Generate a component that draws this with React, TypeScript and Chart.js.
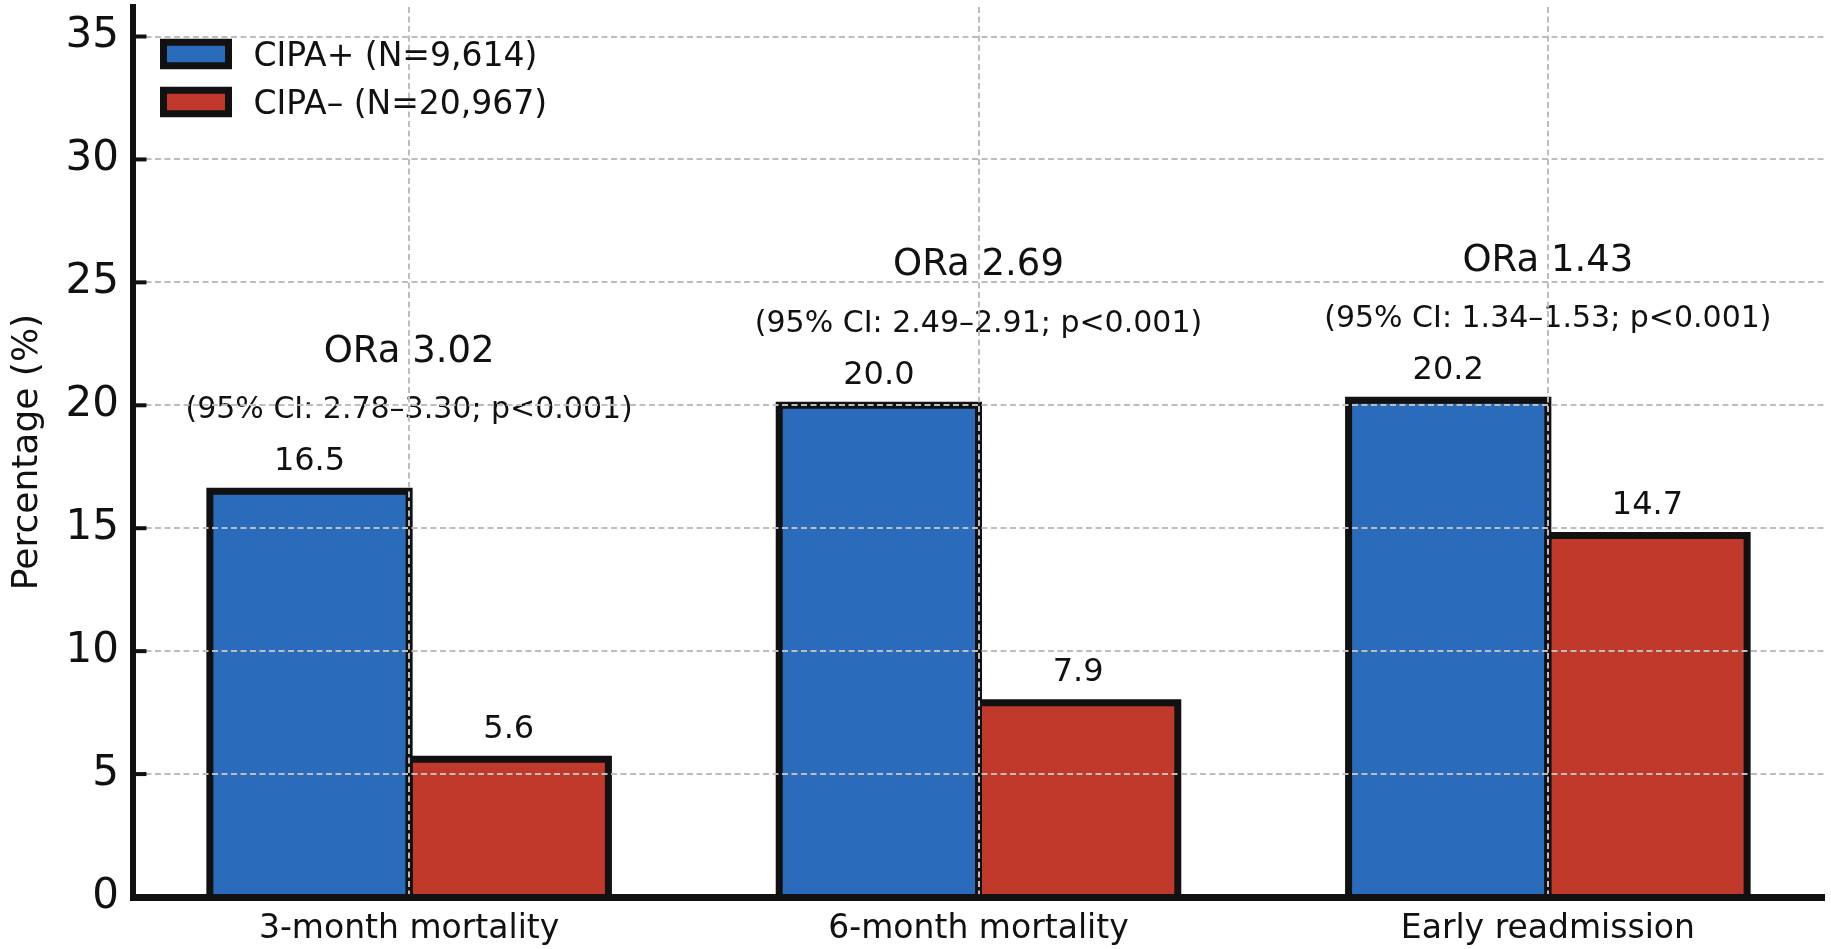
import { useEffect, useRef } from "react"
import { Chart, BarController, BarElement, LinearScale } from "chart.js"

Chart.register(BarController, BarElement, LinearScale)

const categories = ["3-month mortality", "6-month mortality", "Early readmission"]
const seriesLabels = ["CIPA+ (N=9,614)", "CIPA– (N=20,967)"]
const cipaPos = [16.5, 20.0, 20.2]
const cipaNeg = [5.6, 7.9, 14.7]
const oraLabels = ["ORa 3.02", "ORa 2.69", "ORa 1.43"]
const ciLabels = [
  "(95% CI: 2.78–3.30; p<0.001)",
  "(95% CI: 2.49–2.91; p<0.001)",
  "(95% CI: 1.34–1.53; p<0.001)",
]
const yTicks = [0, 5, 10, 15, 20, 25, 30, 35]
const yMax = 36.2

const FONT = "DejaVu Sans"
const COLORS = {
  pos: "#2a6bbb",
  neg: "#c0392b",
  edge: "#111111",
  grid: "#bdbdbd",
  text: "#111111",
}

// bar outlines, value labels, ORa / CI text, inward ticks and the legend
const overlayPlugin = {
  id: "overlay",
  afterDatasetsDraw(chart: any) {
    const { ctx } = chart
    const ys = chart.scales.y
    const xs = chart.scales.x
    ctx.save()

    ctx.lineWidth = 7
    ctx.strokeStyle = COLORS.edge
    ctx.lineJoin = "miter"
    chart.data.datasets.forEach((_: any, di: number) => {
      chart.getDatasetMeta(di).data.forEach((bar: any) => {
        const l = bar.x - bar.width / 2
        const r = bar.x + bar.width / 2
        ctx.beginPath()
        ctx.moveTo(l, bar.base)
        ctx.lineTo(l, bar.y)
        ctx.lineTo(r, bar.y)
        ctx.lineTo(r, bar.base)
        ctx.stroke()
      })
    })

    ctx.fillStyle = COLORS.text
    ctx.textAlign = "center"
    ctx.textBaseline = "alphabetic"
    ctx.font = `32px "${FONT}"`
    chart.data.datasets.forEach((ds: any, di: number) => {
      chart.getDatasetMeta(di).data.forEach((bar: any, i: number) => {
        const v = ds.data[i].y
        ctx.fillText(v.toFixed(1), bar.x, ys.getPixelForValue(v + 0.87))
      })
    })

    categories.forEach((_, i) => {
      const top = Math.max(cipaPos[i], cipaNeg[i])
      const cx = xs.getPixelForValue(i)
      ctx.font = `30px "${FONT}"`
      ctx.fillText(ciLabels[i], cx, ys.getPixelForValue(top + 2.97))
      ctx.font = `37px "${FONT}"`
      ctx.fillText(oraLabels[i], cx, ys.getPixelForValue(top + 5.28))
    })
    ctx.restore()
  },
  afterDraw(chart: any) {
    const { ctx, chartArea: ca } = chart
    const ys = chart.scales.y
    ctx.save()

    ctx.strokeStyle = COLORS.edge
    ctx.lineWidth = 4
    ys.ticks.forEach((t: any) => {
      if (t.value === 0) return
      const py = ys.getPixelForValue(t.value)
      ctx.beginPath()
      ctx.moveTo(ca.left, py)
      ctx.lineTo(ca.left + 13.5, py)
      ctx.stroke()
    })

    chart.data.datasets.forEach((ds: any, i: number) => {
      const top = ca.top + 35.3 + i * 48
      ctx.beginPath()
      ctx.rect(ca.left + 30.5, top, 65, 23.4)
      ctx.fillStyle = ds.backgroundColor
      ctx.fill()
      ctx.lineWidth = 7
      ctx.strokeStyle = COLORS.edge
      ctx.stroke()
      ctx.fillStyle = COLORS.text
      ctx.font = `33px "${FONT}"`
      ctx.textAlign = "left"
      ctx.textBaseline = "alphabetic"
      ctx.fillText(ds.label, ca.left + 120.5, top + 23.5)
    })
    ctx.restore()
  },
}

export default function App() {
  const canvasRef = useRef<HTMLCanvasElement>(null)

  useEffect(() => {
    const canvas = canvasRef.current
    if (!canvas) return

    const chart = new Chart(canvas, {
      type: "bar",
      data: {
        datasets: [
          {
            label: seriesLabels[0],
            data: cipaPos.map((v, i) => ({ x: i, y: v })),
            backgroundColor: COLORS.pos,
            borderWidth: 0,
            categoryPercentage: 0.7,
            barPercentage: 1,
          },
          {
            label: seriesLabels[1],
            data: cipaNeg.map((v, i) => ({ x: i, y: v })),
            backgroundColor: COLORS.neg,
            borderWidth: 0,
            categoryPercentage: 0.7,
            barPercentage: 1,
          },
        ] as any,
      },
      options: {
        responsive: true,
        maintainAspectRatio: false,
        animation: false,
        layout: { padding: { left: 0, right: 7, top: 7, bottom: 0 } },
        plugins: {
          legend: { display: false },
          tooltip: { enabled: false },
        },
        scales: {
          x: {
            type: "linear",
            min: -0.485,
            max: 2.485,
            offset: false,
            afterBuildTicks: (s: any) => {
              s.ticks = categories.map((_, i) => ({ value: i }))
            },
            afterFit: (s: any) => {
              s.height = 52
              s.paddingLeft = 0
              s.paddingRight = 0
            },
            ticks: {
              callback: (_v: any, i: number) => categories[i],
              font: { family: FONT, size: 33 },
              color: COLORS.text,
              padding: 13,
              maxRotation: 0,
              autoSkip: false,
            },
            grid: { color: COLORS.grid, lineWidth: 2, drawTicks: false, offset: false, z: 1 },
            border: { color: COLORS.edge, width: 7, dash: [6, 3.5], z: 2 },
          },
          y: {
            type: "linear",
            min: 0,
            max: yMax,
            afterBuildTicks: (s: any) => {
              s.ticks = yTicks.map((value) => ({ value }))
            },
            afterFit: (s: any) => {
              s.width = 133
              s.paddingTop = 0
              s.paddingBottom = 0
            },
            ticks: {
              font: { family: FONT, size: 42 },
              color: COLORS.text,
              padding: 14,
            },
            grid: { color: COLORS.grid, lineWidth: 2, drawTicks: false, z: 1 },
            border: { color: COLORS.edge, width: 6, dash: [6, 3.5], z: 2 },
            title: {
              display: true,
              text: "Percentage (%)",
              font: { family: FONT, size: 36 },
              color: COLORS.text,
              padding: { top: 6, bottom: 0 },
            },
          },
        },
      } as any,
      plugins: [overlayPlugin],
    })

    return () => chart.destroy()
  }, [])

  return (
    <div style={{ position: "fixed", left: 0, top: 0, width: 1831, height: 949, background: "#fff" }}>
      <canvas ref={canvasRef} role="img" aria-label="CIPA+ vs CIPA– outcomes" />
    </div>
  )
}
